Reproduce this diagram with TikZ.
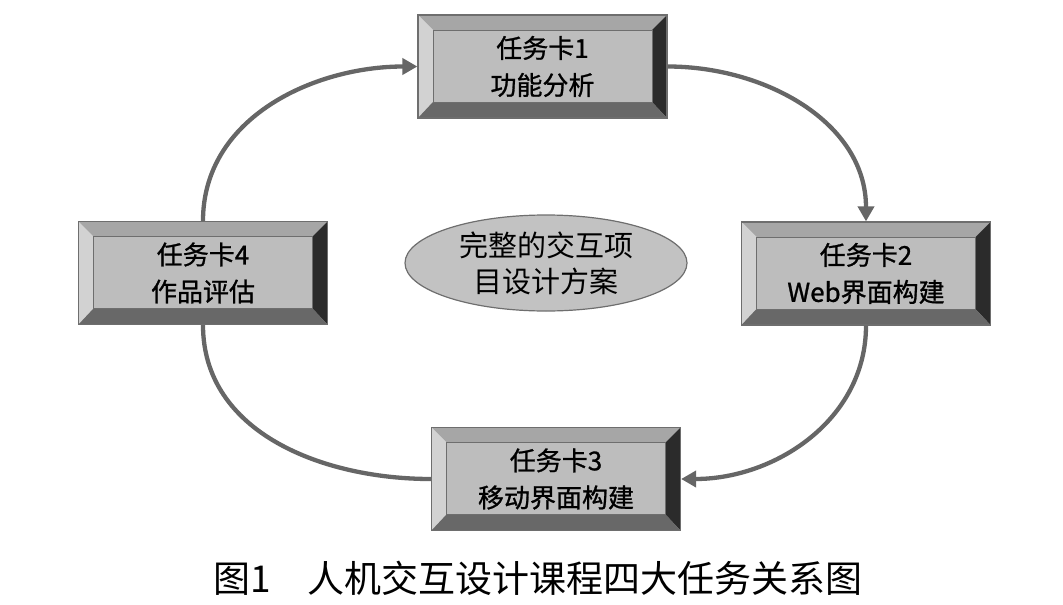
\documentclass[tikz,border=0pt]{standalone}
\usepackage{fontspec}
\newfontfamily\cjk{Noto Sans CJK SC}
\newfontfamily\cjkb[FakeBold=1]{Noto Sans CJK SC}
\usetikzlibrary{arrows.meta,shapes.geometric}
\definecolor{face}{HTML}{BDBDBD}
\definecolor{bvtop}{HTML}{A6A6A6}
\definecolor{bvleft}{HTML}{D2D2D2}
\definecolor{bvright}{HTML}{2B2B2B}
\definecolor{bvbot}{HTML}{686868}
\definecolor{edge}{HTML}{6E6E6E}
\definecolor{conn}{HTML}{666666}
\definecolor{ellfill}{HTML}{C2C2C2}
\begin{document}
\begin{tikzpicture}[x=1pt,y=1pt,
  card/.style={rectangle, minimum width=249pt, minimum height=103pt, inner sep=0pt,
    fill=face, draw=edge, line width=1.2pt, align=center,
    font=\cjkb\fontsize{26}{37}\selectfont,
    path picture={
      \fill[bvtop] (path picture bounding box.north west) -- (path picture bounding box.north east)
        -- ([xshift=-15pt,yshift=-15pt]path picture bounding box.north east)
        -- ([xshift=15pt,yshift=-15pt]path picture bounding box.north west) -- cycle;
      \fill[bvleft] (path picture bounding box.north west) -- (path picture bounding box.south west)
        -- ([xshift=15pt,yshift=16pt]path picture bounding box.south west)
        -- ([xshift=15pt,yshift=-15pt]path picture bounding box.north west) -- cycle;
      \fill[bvright] (path picture bounding box.north east) -- (path picture bounding box.south east)
        -- ([xshift=-15pt,yshift=16pt]path picture bounding box.south east)
        -- ([xshift=-15pt,yshift=-15pt]path picture bounding box.north east) -- cycle;
      \fill[bvbot] (path picture bounding box.south west) -- (path picture bounding box.south east)
        -- ([xshift=-15pt,yshift=16pt]path picture bounding box.south east)
        -- ([xshift=15pt,yshift=16pt]path picture bounding box.south west) -- cycle;
      \draw[edge, line width=0.6pt] ([xshift=15pt,yshift=-15pt]path picture bounding box.north west)
        rectangle ([xshift=-15pt,yshift=16pt]path picture bounding box.south east);
    }},
  conn/.style={draw=conn, line width=4.3pt},
  arr/.style={conn, -{Triangle[length=15pt,width=16pt]}}
]
\useasboundingbox (0,0) rectangle (1063,-605);

\node[card] (b1) at (542.5,-66.5) {任务卡1\\功能分析};
\node[card] (b2) at (866,-273.5) {任务卡2\\Web界面构建};
\node[card] (b3) at (556,-479) {任务卡3\\移动界面构建};
\node[card] (b4) at (203,-273) {任务卡4\\作品评估};

\node[ellipse, minimum width=282pt, minimum height=96pt, inner sep=0pt,
  fill=ellfill, draw=edge, line width=1.2pt, align=center,
  font=\cjk\fontsize{29}{36}\selectfont] (c) at (546,-263) {完整的交互项\\目设计方案};

\draw[arr] (b4.north) to[out=90,in=180] (b1.west);
\draw[arr] (b1.east) to[out=0,in=90] (b2.north);
\draw[arr] (b2.south) to[out=-90,in=0] (b3.east);
\draw[conn] (b3.west) to[out=180,in=-90] (b4.south);

\node[font=\cjk\fontsize{37}{40}\selectfont, inner sep=0pt] (cap) at (538,-578) {图1\hspace{1em}人机交互设计课程四大任务关系图};
\end{tikzpicture}
\end{document}
